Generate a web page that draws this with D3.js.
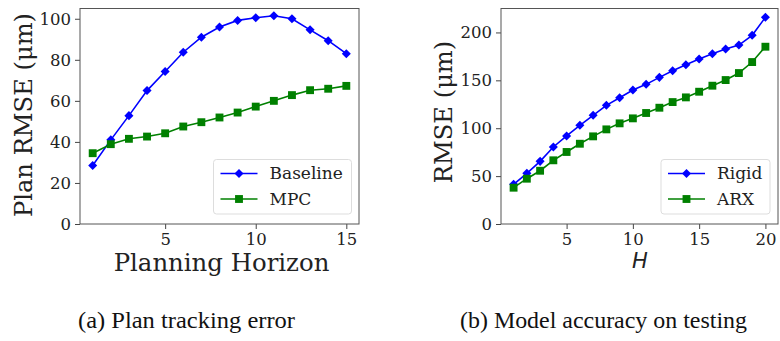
<!DOCTYPE html>
<html>
<head>
<meta charset="UTF-8">
<script src="https://d3js.org/d3.v7.min.js"></script>
<style>
  body { margin: 0; background: #fff; }
</style>
</head>
<body>
<svg width="780" height="341"></svg>
<script>
// (a) plan tracking error
const horizonA = d3.range(1, 16);
const baseline = [28.5, 41, 52.8, 65, 74.3, 83.7, 91, 96, 99.2, 100.5, 101.5, 100, 94.6, 89.3, 83];
const mpc = [34.5, 38.9, 41.5, 42.6, 44.2, 47.5, 49.6, 51.9, 54.3, 57.2, 60, 62.8, 65.2, 65.9, 67.3];
const ticksAx = [5, 10, 15];
const ticksAy = [0, 20, 40, 60, 80, 100];

// (b) model accuracy on testing
const horizonB = d3.range(1, 21);
const rigid = [41.4, 52.9, 65.4, 80.4, 91.9, 103, 113.5, 123.9, 131.8, 139.9, 145.8, 153.1, 160, 166.3, 172.2, 177.8, 182.7, 186.8, 197, 215.8];
const arx = [37.9, 47.3, 55.6, 66.5, 75.2, 83.8, 91.5, 98.8, 105.1, 110.3, 115.9, 121.4, 127.3, 132.2, 138.1, 144.4, 150.3, 157.6, 169.1, 185.1];
const ticksBx = [5, 10, 15, 20];
const ticksBy = [0, 50, 100, 150, 200];

const blue = '#0000ff', green = '#008000';
const serif = '"DejaVu Serif", serif';
const times = '"Liberation Serif", "Times New Roman", Times, serif';
const svg = d3.select('svg');

const marker = diamond => diamond ? d3.symbol(d3.symbolDiamond2, 52) : d3.symbol(d3.symbolSquare, 62);

function panel(o) {
  const x = d3.scaleLinear().domain(o.xd).range(o.xr);
  const y = d3.scaleLinear().domain(o.yd).range([224, 8.5]);
  const g = svg.append('g');

  g.append('g')
    .attr('transform', 'translate(0,224)')
    .call(d3.axisBottom(x).tickValues(o.xt).tickSize(5).tickPadding(4))
    .call(a => a.select('.domain').remove());
  g.append('g')
    .attr('transform', `translate(${o.xr[0]},0)`)
    .call(d3.axisLeft(y).tickValues(o.yt).tickSize(5).tickPadding(4))
    .call(a => a.select('.domain').remove());
  g.selectAll('.tick text').attr('font-size', 16.5).attr('fill', '#222').attr('font-family', serif);
  g.selectAll('.tick line').attr('stroke', '#444');

  g.append('rect')
    .attr('x', o.xr[0]).attr('y', 8.5)
    .attr('width', o.xr[1] - o.xr[0]).attr('height', 224 - 8.5)
    .attr('fill', 'none').attr('stroke', '#555').attr('stroke-width', 1);

  const line = d3.line().x((d, i) => x(o.xs[i])).y(d => y(d));
  o.series.forEach(s => {
    g.append('path').datum(s.v)
      .attr('d', line).attr('fill', 'none')
      .attr('stroke', s.c).attr('stroke-width', 1.6);
    g.selectAll(null).data(s.v).enter().append('path')
      .attr('d', marker(s.diamond))
      .attr('transform', (d, i) => `translate(${x(o.xs[i])},${y(d)})`)
      .attr('fill', s.c);
  });

  // legend
  const lg = g.append('g');
  lg.append('rect')
    .attr('x', o.leg[0]).attr('y', 159.5)
    .attr('width', o.leg[1] - o.leg[0]).attr('height', 54.5)
    .attr('rx', 3).attr('fill', '#fff').attr('stroke', '#ddd');
  o.series.forEach((s, i) => {
    const ly = 173.5 + i * 25.5;
    const x0 = o.leg[0] + 7, x1 = x0 + 37;
    lg.append('line').attr('x1', x0).attr('x2', x1).attr('y1', ly).attr('y2', ly)
      .attr('stroke', s.c).attr('stroke-width', 1.6);
    lg.append('path').attr('d', marker(s.diamond))
      .attr('transform', `translate(${(x0 + x1) / 2},${ly})`).attr('fill', s.c);
    lg.append('text').attr('x', x1 + 12).attr('y', ly).attr('dy', '0.35em')
      .style('font-family', serif)
      .attr('font-size', 17).attr('fill', '#222').text(s.name);
  });

  return g;
}

panel({
  xd: [0.3, 15.7], xr: [80, 359], yd: [0, 105],
  xt: ticksAx, yt: ticksAy, xs: horizonA, leg: [213.5, 351.5],
  series: [{ name: 'Baseline', v: baseline, c: blue, diamond: true },
           { name: 'MPC', v: mpc, c: green }]
});
panel({
  xd: [0.05, 20.95], xr: [501, 778], yd: [0, 225],
  xt: ticksBx, yt: ticksBy, xs: horizonB, leg: [661, 770],
  series: [{ name: 'Rigid', v: rigid, c: blue, diamond: true },
           { name: 'ARX', v: arx, c: green }]
});

// axis titles
svg.append('text').attr('x', 221.5).attr('y', 271).attr('text-anchor', 'middle')
  .style('font-family', serif)
  .attr('font-size', 24.4).attr('fill', '#222').text('Planning Horizon');
svg.append('text').attr('transform', 'translate(31.5,115) rotate(-90)').attr('text-anchor', 'middle')
  .style('font-family', serif)
  .attr('font-size', 24.2).attr('fill', '#222').text('Plan RMSE (μm)');
svg.append('text').attr('transform', 'translate(451.5,112) rotate(-90)').attr('text-anchor', 'middle')
  .style('font-family', serif)
  .attr('font-size', 24.2).attr('fill', '#222').text('RMSE (μm)');
svg.append('text').attr('x', 640).attr('y', 268).attr('text-anchor', 'middle')
  .style('font-family', '"DejaVu Sans", sans-serif').attr('font-style', 'italic')
  .attr('font-size', 21).attr('fill', '#222').text('H');

// captions
svg.append('text').attr('x', 78).attr('y', 328)
  .style('font-family', times).attr('font-size', 24).attr('fill', '#111')
  .attr('textLength', 217).attr('lengthAdjust', 'spacingAndGlyphs')
  .text('(a) Plan tracking error');
svg.append('text').attr('x', 460).attr('y', 328)
  .style('font-family', times).attr('font-size', 24).attr('fill', '#111')
  .attr('textLength', 287).attr('lengthAdjust', 'spacingAndGlyphs')
  .text('(b) Model accuracy on testing');
</script>
</body>
</html>
